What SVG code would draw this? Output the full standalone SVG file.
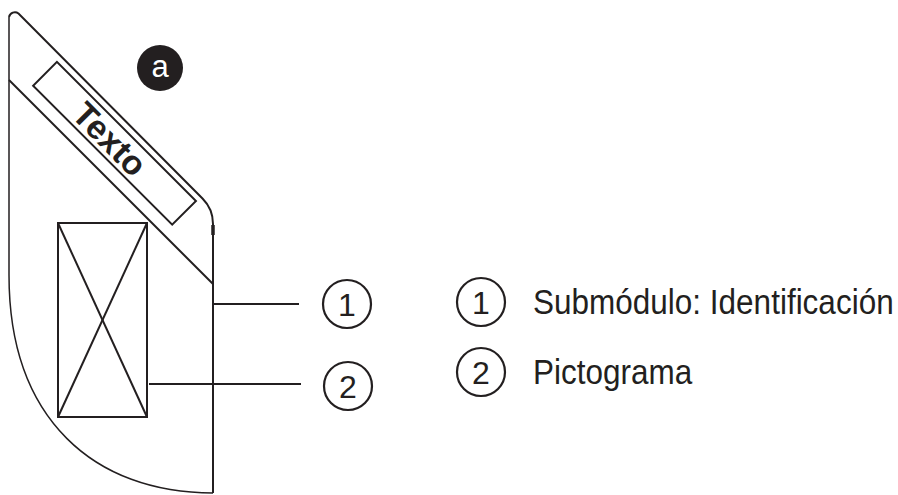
<svg xmlns="http://www.w3.org/2000/svg" width="898" height="495" viewBox="0 0 898 495">
<style>
.ln{fill:none;stroke:#231f20;stroke-width:2}
.thin{fill:none;stroke:#231f20;stroke-width:1.5}
.cir{fill:#fff;stroke:#231f20;stroke-width:2.2}
.num{font-family:"Liberation Sans",Arial,sans-serif;font-size:32px;fill:#231f20;text-anchor:middle}
.lg{font-family:"Liberation Sans",Arial,sans-serif;font-size:31.5px;fill:#231f20}
</style>
<rect width="898" height="495" fill="#fff"/>
<g id="module">
<path class="ln" d="M 9 17 A 6 6 0 0 1 18.5 13.5 L 202.5 198.5 A 36 36 0 0 1 213 223.9 L 213 493"/>
<path class="thin" d="M 9 17 L 9 275 C 9 420 95 493 213 493"/>
<line x1="213" y1="225" x2="213" y2="235" stroke="#231f20" stroke-width="3.5"/>
<line class="ln" x1="9" y1="80" x2="213" y2="284"/>
</g>
<g id="textbox" transform="rotate(45)">
<rect class="ln" x="84" y="3.5" width="196.6" height="33.6"/>
<text x="176" y="32.5" font-family="'Liberation Sans',Arial,sans-serif" font-weight="bold" font-size="34" fill="#231f20" text-anchor="middle">Texto</text>
</g>
<g id="badge-a">
<circle cx="160" cy="68" r="23" fill="#231f20"/>
<text x="160" y="77" font-family="'Liberation Sans',Arial,sans-serif" font-size="31" fill="#fff" text-anchor="middle">a</text>
</g>
<g id="pictogram">
<rect class="ln" x="58" y="223" width="89" height="194"/>
<line class="ln" x1="58" y1="223" x2="147" y2="417"/>
<line class="ln" x1="147" y1="223" x2="58" y2="417"/>
</g>
<g id="connectors">
<line class="ln" x1="213" y1="304" x2="299" y2="304"/>
<line class="ln" x1="149" y1="384" x2="301" y2="384"/>
</g>
<g id="callout-1">
<circle class="cir" cx="347" cy="304" r="24"/>
<text class="num" x="347" y="315.5">1</text>
</g>
<g id="callout-2">
<circle class="cir" cx="348" cy="386" r="24"/>
<text class="num" x="348" y="397.5">2</text>
</g>
<g id="legend-1">
<circle class="cir" cx="481" cy="302" r="24"/>
<text class="num" x="481" y="313.5">1</text>
<text class="lg" transform="translate(533,314) scale(1,1.12)">Submódulo: Identificación</text>
</g>
<g id="legend-2">
<circle class="cir" cx="481" cy="372" r="24"/>
<text class="num" x="481" y="383.5">2</text>
<text class="lg" transform="translate(533,384) scale(1,1.12)">Pictograma</text>
</g>
</svg>
